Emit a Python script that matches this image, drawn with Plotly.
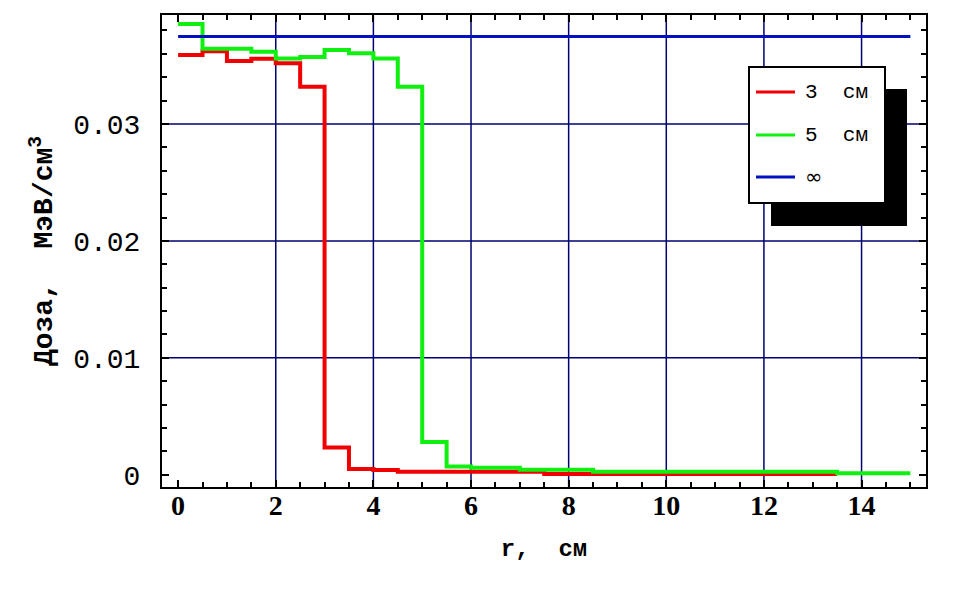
import plotly.graph_objects as go

# ---- data (bin width 0.5 cm) ----
r_edges_5 = [i * 0.5 for i in range(31)]          # 0 .. 15
dose_5cm = [0.03855, 0.03644, 0.03644, 0.03618, 0.03561, 0.03573, 0.03632, 0.03604,
            0.03561, 0.03319, 0.0028, 0.00071, 0.0006, 0.0006, 0.00043, 0.00043,
            0.00043, 0.00026, 0.00026, 0.00026, 0.00026, 0.00026, 0.00026, 0.00026,
            0.00026, 0.00026, 0.00026, 0.00012, 0.00012, 0.00012]
r_edges_3 = [i * 0.5 for i in range(28)]          # 0 .. 13.5
dose_3cm = [0.0359, 0.03621, 0.03538, 0.03558, 0.03519, 0.03319, 0.00233, 0.0005,
            0.0004, 0.00026, 0.00026, 0.00026, 0.00026, 0.00026, 0.00026, 0.00007,
            0.00007, 0.00007, 0.00007, 0.00007, 0.00007, 0.00007, 0.00007, 0.00007,
            0.00007, 0.00007, 0.00007]
r_inf = [0, 15]
dose_inf = [0.03749, 0.03749]

x_tickvals = [0, 2, 4, 6, 8, 10, 12, 14]
y_tickvals = [0, 0.01, 0.02, 0.03]
y_ticktext = ["0", "0.01", "0.02", "0.03"]
x_grid = [2, 4, 6, 8, 10, 12, 14]
y_grid = [0.01, 0.02, 0.03]

legend_names = ["3  см", "5  см", "∞"]
colors = ["#f00000", "#10f010", "#0010c0"]

fig = go.Figure()
fig.add_trace(go.Scatter(x=r_edges_3, y=dose_3cm + [dose_3cm[-1]], mode="lines",
                         line=dict(color=colors[0], width=4, shape="hv"), showlegend=False))
fig.add_trace(go.Scatter(x=r_edges_5, y=dose_5cm + [dose_5cm[-1]], mode="lines",
                         line=dict(color=colors[1], width=4, shape="hv"), showlegend=False))
fig.add_trace(go.Scatter(x=r_inf, y=dose_inf, mode="lines",
                         line=dict(color=colors[2], width=3), showlegend=False))

shapes = []
for gx in x_grid:
    shapes.append(dict(type="line", xref="x", yref="paper", x0=gx, x1=gx, y0=0, y1=1,
                       line=dict(color="#000070", width=1.5), layer="below"))
for gy in y_grid:
    shapes.append(dict(type="line", xref="paper", yref="y", x0=0, x1=1, y0=gy, y1=gy,
                       line=dict(color="#000070", width=1.5), layer="below"))

# page body has an 8px margin; the figure is sized so the plot area lands where the reference has it
OFF = 8
W, H = 955 - OFF, 589 - OFF
L, R, T, B = 162, 926, 15, 487   # plot area in window pixels
def px(x):
    return (x - L) / (R - L)
def py(y):
    return (B - y) / (B - T)

shapes.append(dict(type="rect", xref="paper", yref="paper", x0=px(771), x1=px(907),
                   y0=py(226), y1=py(89), fillcolor="black", line=dict(width=0), layer="above"))
shapes.append(dict(type="rect", xref="paper", yref="paper", x0=px(749), x1=px(885),
                   y0=py(203), y1=py(67), fillcolor="white", line=dict(color="black", width=2),
                   layer="above"))
annotations = []
ly = [92, 135, 177]
for name, c, yy in zip(legend_names, colors, ly):
    shapes.append(dict(type="line", xref="paper", yref="paper", x0=px(756), x1=px(795),
                       y0=py(yy), y1=py(yy), line=dict(color=c, width=3), layer="above"))
    if name == "∞":
        f = dict(family="DejaVu Sans", size=21, color="black")
    else:
        f = dict(family="Liberation Mono", size=21, color="black")
    annotations.append(dict(x=px(803), y=py(yy), xref="paper", yref="paper", text=name,
                            showarrow=False, xanchor="left", yanchor="middle", font=f))

fig.update_layout(
    width=W, height=H,
    margin=dict(l=L - OFF, r=955 - R, t=T - OFF, b=589 - B, autoexpand=False),
    paper_bgcolor="white", plot_bgcolor="white",
    shapes=shapes, annotations=annotations,
    xaxis=dict(range=[-0.33, 15.32], tickvals=x_tickvals, showgrid=False, zeroline=False,
               showline=True, linewidth=2, linecolor="black", mirror="allticks",
               ticks="inside", ticklen=7, tickwidth=1.5, tickcolor="black",
               minor=dict(dtick=0.5, ticks="inside", ticklen=5, tickwidth=1.5, tickcolor="black"),
               ticklabelstandoff=-8,
               tickfont=dict(family="Liberation Serif", size=28, color="black", weight="bold"),
               title=dict(text="r,  см", standoff=20,
                          font=dict(family="Liberation Mono", size=24, color="black", weight="bold"))),
    yaxis=dict(range=[-0.00105, 0.03932], tickvals=y_tickvals, ticktext=y_ticktext,
               showgrid=False, zeroline=False,
               showline=True, linewidth=2, linecolor="black", mirror="allticks",
               ticks="inside", ticklen=7, tickwidth=1.5, tickcolor="black",
               minor=dict(dtick=0.002, ticks="inside", ticklen=5, tickwidth=1.5, tickcolor="black"),
               ticklabelstandoff=14,
               tickfont=dict(family="Liberation Mono", size=28, color="black"),
               title=dict(text="Доза,  МэВ/см<sup>3</sup>", standoff=12,
                          font=dict(family="Liberation Mono", size=28, color="black", weight="bold"))),
)
fig.write_html("out.html")
